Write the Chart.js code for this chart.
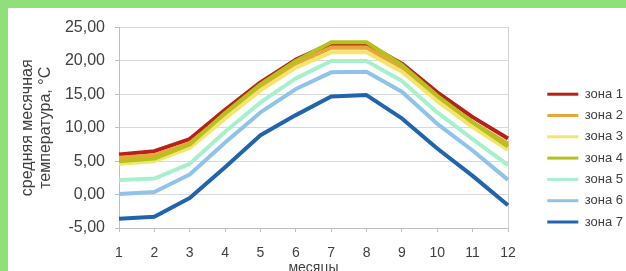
<!DOCTYPE html>
<html>
<head>
<meta charset="utf-8">
<script src="https://cdn.jsdelivr.net/npm/chart.js@4"></script>
<style>
  html, body { margin: 0; padding: 0; }
  body { width: 626px; height: 271px; background: #8fe07b; position: relative; overflow: hidden; }
  #box { position: absolute; left: 8px; top: 8px; width: 618px; height: 263px; background: #fff; }
</style>
</head>
<body>
<div id="box"><canvas id="chart" width="618" height="263"></canvas></div>
<script>
// средняя месячная температура по климатическим зонам
const MONTHS = ["1", "2", "3", "4", "5", "6", "7", "8", "9", "10", "11", "12"];
const ZONE1 = [6.0, 6.5, 8.3, 12.7, 16.8, 20.2, 22.6, 22.6, 19.6, 15.3, 11.6, 8.4];
const ZONE2 = [5.5, 5.9, 7.7, 12.0, 16.2, 19.6, 22.0, 22.0, 19.0, 14.6, 10.8, 7.6];
const ZONE3 = [4.6, 5.0, 7.0, 11.4, 15.6, 19.0, 21.3, 21.3, 18.4, 14.0, 10.1, 6.7];
const ZONE4 = [5.0, 5.4, 7.5, 12.2, 16.5, 20.0, 22.8, 22.8, 19.4, 14.8, 10.8, 7.2];
const ZONE5 = [2.2, 2.4, 4.6, 9.4, 13.8, 17.4, 20.0, 20.0, 17.0, 12.3, 8.3, 4.4];
const ZONE6 = [0.1, 0.4, 3.0, 7.8, 12.3, 15.8, 18.3, 18.4, 15.4, 10.6, 6.6, 2.2];
const ZONE7 = [-3.6, -3.3, -0.5, 4.1, 8.9, 11.9, 14.7, 14.9, 11.4, 6.9, 2.8, -1.6];
const ZONE_NAMES = ["зона 1", "зона 2", "зона 3", "зона 4", "зона 5", "зона 6", "зона 7"];
const ZONE_COLORS = ["#b8201a", "#eaa53a", "#f5e46e", "#b5c21e", "#a6f0cc", "#8fc3ea", "#1f64ad"];

const FONT = '"Liberation Sans", Arial, sans-serif';
const TXT = "#404040";
const zones = [ZONE1, ZONE2, ZONE3, ZONE4, ZONE5, ZONE6, ZONE7];

const datasets = zones.map((vals, i) => ({
  label: ZONE_NAMES[i],
  data: vals,
  borderColor: ZONE_COLORS[i],
  backgroundColor: ZONE_COLORS[i],
  borderWidth: 4,
  pointRadius: 0,
  tension: 0,
  borderJoinStyle: "round",
  order: zones.length - 1 - i, // later series on top, like the spreadsheet
}));

new Chart(document.getElementById("chart"), {
  type: "line",
  data: { labels: MONTHS, datasets },
  options: {
    responsive: false,
    animation: false,
    devicePixelRatio: 1,
    layout: { padding: { top: 15, left: 0, right: 0, bottom: 0 } },
    plugins: {
      tooltip: { enabled: false },
      legend: {
        position: "right",
        align: "start",
        maxWidth: 87,
        title: { display: true, text: " ", font: { size: 12 }, padding: { top: 21.5, bottom: 20.5 } },
        labels: {
          color: TXT,
          font: { family: FONT, size: 13 },
          boxWidth: 31,
          boxHeight: 3,
          padding: 8.3,
          sort: (a, b) => a.datasetIndex - b.datasetIndex,
          generateLabels: chart => {
            const items = Chart.defaults.plugins.legend.labels.generateLabels(chart);
            items.forEach(it => { it.fillStyle = ZONE_COLORS[it.datasetIndex]; it.lineWidth = 0; });
            return items;
          },
        },
      },
    },
    scales: {
      x: {
        type: "category",
        offset: false,
        grid: { drawOnChartArea: false, drawTicks: true, tickLength: 4, tickColor: "#bfbfbf" },
        border: { color: "#bfbfbf" },
        ticks: { color: TXT, font: { family: FONT, size: 14 }, padding: 13, maxRotation: 0, autoSkip: false },
        title: { display: true, text: "месяцы", color: TXT, font: { family: FONT, size: 14, lineHeight: 0.45 }, padding: 0 },
        afterFit: s => { s.height = 43; },
      },
      y: {
        min: -5,
        max: 25,
        grid: { color: "#d9d9d9", tickLength: 4, tickColor: "#bfbfbf" },
        border: { color: "#bfbfbf" },
        ticks: {
          stepSize: 5,
          color: TXT,
          font: { family: FONT, size: 16 },
          padding: 10,
          callback: v => v.toFixed(2).replace(".", ","),
        },
        title: {
          display: true,
          text: ["средняя месячная", "температура, °C"],
          color: TXT,
          font: { family: FONT, size: 16, lineHeight: 1.125 },
          padding: { top: 11, bottom: 0 },
        },
        afterFit: s => { s.width = 111; },
      },
      y2: {
        position: "right",
        grid: { display: false },
        border: { display: true, color: "#d0d0d0" },
        ticks: { display: false },
        afterFit: s => { s.width = 31; },
      },
    },
  },
});
</script>
</body>
</html>
